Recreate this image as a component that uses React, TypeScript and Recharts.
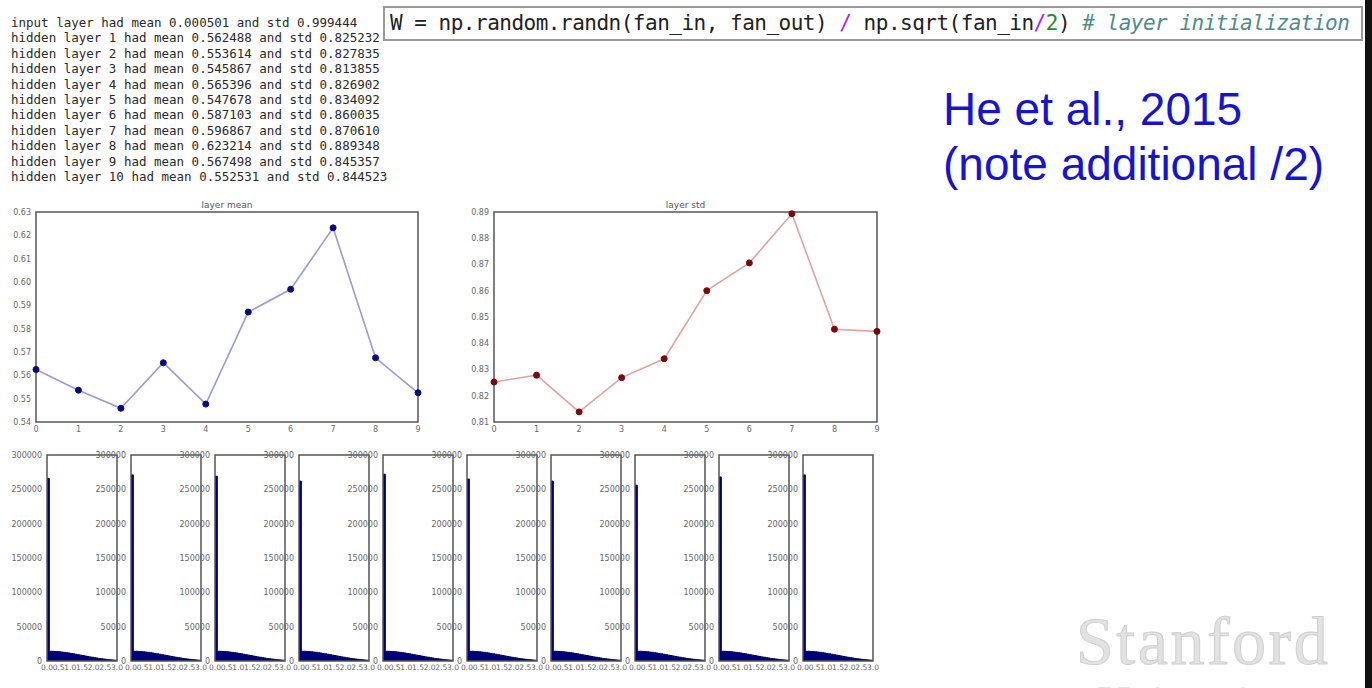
import { Area, AreaChart, Line, LineChart, ReferenceArea, XAxis, YAxis } from "recharts";

// hidden layers 1..10, plotted at index 0..9
const layers = [0, 1, 2, 3, 4, 5, 6, 7, 8, 9];
const layerMeans = [0.562488, 0.553614, 0.545867, 0.565396, 0.547678, 0.587103, 0.596867, 0.623214, 0.567498, 0.552531];
const layerStds = [0.825232, 0.827835, 0.813855, 0.826902, 0.834092, 0.860035, 0.87061, 0.889348, 0.845357, 0.844523];
const inputMean = 0.000501;
const inputStd = 0.999444;

const meanTicks = [0.54, 0.55, 0.56, 0.57, 0.58, 0.59, 0.6, 0.61, 0.62, 0.63];
const stdTicks = [0.81, 0.82, 0.83, 0.84, 0.85, 0.86, 0.87, 0.88, 0.89];

// histogram of activations per layer (30 bins over 0..3)
const binEdges = [
  0, 0.1, 0.2, 0.3, 0.4, 0.5, 0.6, 0.7, 0.8, 0.9, 1.0, 1.1, 1.2, 1.3, 1.4, 1.5,
  1.6, 1.7, 1.8, 1.9, 2.0, 2.1, 2.2, 2.3, 2.4, 2.5, 2.6, 2.7, 2.8, 2.9, 3.0,
];
const histPeaks = [266000, 271000, 269000, 262000, 272000, 265000, 262000, 256000, 268000, 271000];
const histTail = [
  14200, 14100, 13900, 13700, 13400, 13000, 12600, 12100, 11600, 11000, 10400, 9800, 9200, 8500,
  7900, 7300, 6600, 6000, 5400, 4800, 4300, 3700, 3200, 2800, 2400, 2000, 1700, 1400, 1100,
];
const histXTicks = [0, 0.5, 1, 1.5, 2, 2.5, 3];
const histYTicks = [0, 50000, 100000, 150000, 200000, 250000, 300000];

const frame = "#555";
const tickStyle = { fontSize: 8, fill: "#666", fontFamily: "DejaVu Sans" };

function LayerPlot({ title, values, ticks, left, width, lineColor, dotColor }) {
  const data = layers.map((layer, i) => ({ layer, value: values[i] }));
  const domain = [ticks[0], ticks[ticks.length - 1]];
  return (
    <div style={{ position: "absolute", left, top: 198, width, height: 237 }}>
      <div
        style={{
          position: "absolute",
          left: 36,
          right: 12,
          top: 2,
          textAlign: "center",
          fontSize: 9,
          color: "#555",
          fontFamily: "DejaVu Sans",
          lineHeight: "10px",
        }}
      >
        {title}
      </div>
      <LineChart width={width} height={237} data={data} margin={{ top: 14, right: 12, bottom: 1, left: 6 }}>
        <XAxis
          dataKey="layer"
          type="number"
          domain={[0, 9]}
          ticks={layers}
          interval={0}
          height={12}
          tick={tickStyle}
          tickLine={false}
          tickSize={2}
          axisLine={false}
        />
        <YAxis
          type="number"
          domain={domain}
          ticks={ticks}
          interval={0}
          width={30}
          tick={tickStyle}
          tickLine={false}
          tickSize={3}
          tickFormatter={(v) => v.toFixed(2)}
          axisLine={false}
        />
        <ReferenceArea
          x1={0}
          x2={9}
          y1={domain[0]}
          y2={domain[1]}
          fill="none"
          stroke={frame}
          strokeWidth={1.5}
        />
        <Line
          type="linear"
          dataKey="value"
          stroke={lineColor}
          strokeWidth={1.6}
          dot={{ r: 3, fill: dotColor, stroke: dotColor, strokeWidth: 1 }}
          isAnimationActive={false}
        />
      </LineChart>
    </div>
  );
}

function HistPanel({ peak, index }) {
  const counts = [peak, ...histTail];
  const data = binEdges.map((edge, i) => ({ edge, count: counts[Math.min(i, counts.length - 1)] }));
  const plotLeft = 47 + 84 * index;
  return (
    <div style={{ position: "absolute", left: plotLeft - 38, top: 447, width: 114, height: 228 }}>
      <AreaChart width={114} height={228} data={data} margin={{ top: 8, right: 6, bottom: 2, left: 2 }}>
        <XAxis
          dataKey="edge"
          type="number"
          domain={[0, 3]}
          ticks={histXTicks}
          interval={0}
          height={12}
          tick={{ ...tickStyle, fontSize: 7.5 }}
          tickFormatter={(v) => v.toFixed(1)}
          tickLine={false}
          tickSize={2}
          axisLine={false}
        />
        <YAxis
          type="number"
          domain={[0, 300000]}
          ticks={histYTicks}
          interval={0}
          width={36}
          tick={tickStyle}
          tickLine={false}
          tickSize={3}
          axisLine={false}
        />
        <Area
          type="stepAfter"
          dataKey="count"
          stroke="#00004a"
          strokeWidth={1}
          fill="#00007a"
          fillOpacity={1}
          isAnimationActive={false}
        />
        <ReferenceArea x1={0} x2={3} y1={0} y2={300000} fill="none" stroke={frame} strokeWidth={1.5} />
      </AreaChart>
    </div>
  );
}

export default function App() {
  const lines = [
    `input layer had mean ${inputMean.toFixed(6)} and std ${inputStd.toFixed(6)}`,
    ...layerMeans.map(
      (m, i) => `hidden layer ${i + 1} had mean ${m.toFixed(6)} and std ${layerStds[i].toFixed(6)}`
    ),
  ];
  return (
    <div
      style={{
        position: "fixed",
        left: 0,
        top: 0,
        width: 1372,
        height: 688,
        background: "#fff",
        overflow: "hidden",
      }}
    >
      <pre
        style={{
          position: "absolute",
          left: 11,
          top: 15,
          margin: 0,
          fontFamily: "DejaVu Sans Mono",
          fontSize: 12.5,
          lineHeight: "15.4px",
          color: "#2a2a2a",
        }}
      >
        {lines.join("\n")}
      </pre>

      <div
        style={{
          position: "absolute",
          left: 383,
          top: 6,
          width: 980,
          height: 35,
          boxSizing: "border-box",
          border: "2px solid #999",
          paddingLeft: 5,
          fontFamily: "DejaVu Sans Mono",
          fontSize: 21,
          letterSpacing: -0.5,
          lineHeight: "31px",
          color: "#222",
          whiteSpace: "pre",
        }}
      >
        W = np.random.randn(fan_in, fan_out) <span style={{ color: "#aa22ff" }}>/</span> np.sqrt(fan_in
        <span style={{ color: "#aa22ff" }}>/</span>
        <span style={{ color: "#2a8a2a" }}>2</span>){" "}
        <span style={{ color: "#508a8a", fontStyle: "italic" }}># layer initialization</span>
      </div>

      <div
        style={{
          position: "absolute",
          left: 943,
          top: 82,
          fontFamily: "Liberation Sans",
          fontSize: 46,
          lineHeight: "55px",
          color: "#1515d0",
        }}
      >
        He et al., 2015
        <br />
        (note additional /2)
      </div>

      <LayerPlot
        title="layer mean"
        values={layerMeans}
        ticks={meanTicks}
        left={0}
        width={430}
        lineColor="#9a9ada"
        dotColor="#0a0a80"
      />
      <LayerPlot
        title="layer std"
        values={layerStds}
        ticks={stdTicks}
        left={458}
        width={431}
        lineColor="#e2a2a2"
        dotColor="#7a0a0a"
      />

      {histPeaks.map((peak, i) => (
        <HistPanel key={i} peak={peak} index={i} />
      ))}

      <div
        style={{
          position: "absolute",
          left: 1076,
          top: 606,
          fontFamily: "Liberation Serif",
          fontSize: 68,
          letterSpacing: 2.5,
          lineHeight: "70px",
          color: "#e2e2e2",
          WebkitTextStroke: "1px #cfcfcf",
        }}
      >
        Stanford
      </div>
      <div
        style={{
          position: "absolute",
          left: 1098,
          top: 680,
          fontFamily: "Liberation Serif",
          fontSize: 44,
          lineHeight: "44px",
          color: "#e2e2e2",
        }}
      >
        University
      </div>
      <div style={{ position: "absolute", left: 1365, top: 0, width: 7, height: 688, background: "#111" }} />
    </div>
  );
}
